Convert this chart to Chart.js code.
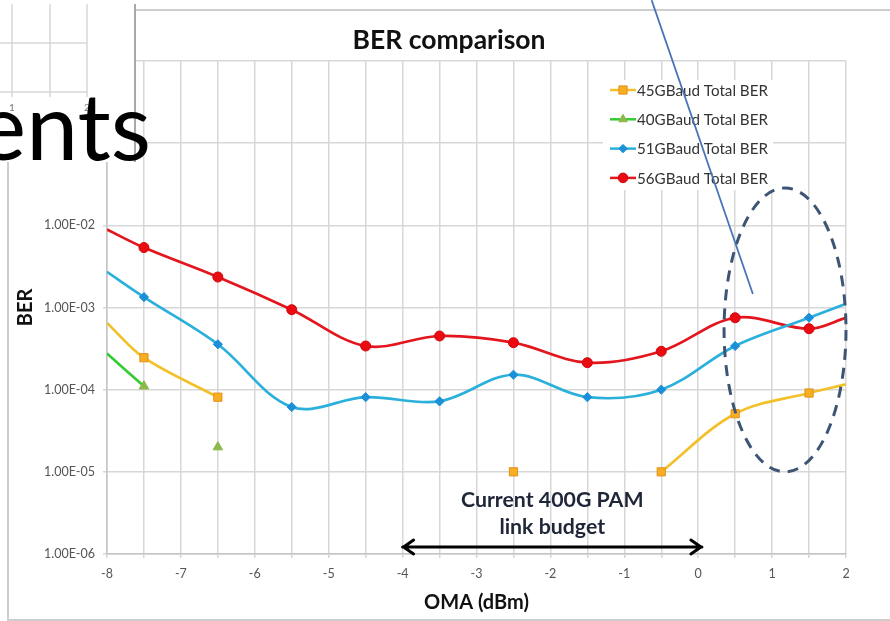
<!DOCTYPE html>
<html>
<head>
<meta charset="utf-8">
<script src="https://cdn.jsdelivr.net/npm/chart.js@4.4.1/dist/chart.umd.min.js"></script>
<style>
  html, body { margin: 0; padding: 0; background: #fff; overflow: hidden; }
  canvas { display: block; }
</style>
</head>
<body>
<canvas id="ber" width="890" height="621"></canvas>
<script>
// Optical modulation amplitude (dBm) at each measured point
const omaDbm = [-8, -7.5, -6.5, -5.5, -4.5, -3.5, -2.5, -1.5, -0.5, 0.5, 1.5, 2];
const ber45GBaud = [6.5e-4, 2.45e-4, 8.1e-5, null, null, null, 1.0e-5, null, 1.0e-5, 5.1e-5, 9.1e-5, 1.16e-4];
const ber51GBaud = [2.71e-3, 1.34e-3, 3.57e-4, 6.15e-5, 8.1e-5, 7.2e-5, 1.52e-4, 8.1e-5, 1.0e-4, 3.4e-4, 7.5e-4, 1.11e-3];
const ber56GBaud = [8.9e-3, 5.36e-3, 2.35e-3, 9.4e-4, 3.4e-4, 4.5e-4, 3.73e-4, 2.13e-4, 2.93e-4, 7.5e-4, 5.52e-4, 7.5e-4];
// 40 GBaud was only measured at the low-power end (no value at -7 dBm)
const omaDbm40 = [-8, -7.5, -7, -6.5];
const ber40GBaud = [2.75e-4, 1.1e-4, null, 2.0e-5];

const seriesNames = ['45GBaud Total BER', '40GBaud Total BER', '51GBaud Total BER', '56GBaud Total BER'];
const berTicks = [1, 1e-1, 1e-2, 1e-3, 1e-4, 1e-5, 1e-6];
const berTickLabels = ['1.00E+00', '1.00E-01', '1.00E-02', '1.00E-03', '1.00E-04', '1.00E-05', '1.00E-06'];

// link-budget span and the highlighted high-power region (in axis units)
const budgetSpan = [-4, 0.05];
const highlightX = [0.35, 2.0];
const highlightY = [1e-5, 2.85e-2];

const FONT = 'Lato, "Open Sans", sans-serif';

function points(xs, ys) {
  return xs.map((x, i) => ({ x: x, y: ys[i] }));
}
// the first and last samples sit on the axis limits and carry no marker
function edgeRadius(r) {
  return ctx => (ctx.raw && (ctx.raw.x <= -8 || ctx.raw.x >= 2)) ? 0 : r;
}

const datasets = [
  {
    label: seriesNames[0], data: points(omaDbm, ber45GBaud),
    borderColor: '#f2c12a', borderWidth: 2.7,
    pointStyle: 'rect', pointRadius: edgeRadius(5.8),
    pointBackgroundColor: '#f7ae22', pointBorderColor: '#e2911a', pointBorderWidth: 1,
    legendMarker: { style: 'rect', radius: 5.8, fill: '#f7ae22', stroke: '#e2911a' }
  },
  {
    label: seriesNames[1], data: points(omaDbm40, ber40GBaud),
    borderColor: '#33cc33', borderWidth: 2.7,
    pointStyle: 'triangle', pointRadius: edgeRadius(5.5),
    pointBackgroundColor: '#8fb84c', pointBorderColor: '#8fb84c', pointBorderWidth: 1,
    legendMarker: { style: 'triangle', radius: 5, fill: '#8fb84c', stroke: '#8fb84c' }
  },
  {
    label: seriesNames[2], data: points(omaDbm, ber51GBaud),
    borderColor: '#2bb0dc', borderWidth: 2.7,
    pointStyle: 'rectRot', pointRadius: edgeRadius(4.6),
    pointBackgroundColor: '#1b8fd8', pointBorderColor: '#1b8fd8', pointBorderWidth: 1,
    legendMarker: { style: 'rectRot', radius: 4.2, fill: '#1b8fd8', stroke: '#1b8fd8' }
  },
  {
    label: seriesNames[3], data: points(omaDbm, ber56GBaud),
    borderColor: '#e3161e', borderWidth: 2.7,
    pointStyle: 'circle', pointRadius: edgeRadius(5),
    pointBackgroundColor: '#ea0a12', pointBorderColor: '#d0060c', pointBorderWidth: 1,
    legendMarker: { style: 'circle', radius: 4.8, fill: '#ea0a12', stroke: '#d0060c' }
  }
];

const decor = {
  id: 'decor',
  beforeDraw(chart) {
    const c = chart.ctx;
    c.save();
    c.fillStyle = '#fff';
    c.fillRect(0, 0, chart.width, chart.height);
    // picture frame of the chart
    c.strokeStyle = '#cdcdcd';
    c.lineWidth = 2;
    c.beginPath();
    c.moveTo(135, 10); c.lineTo(890, 10);
    c.moveTo(8, 0); c.lineTo(8, 621);
    c.moveTo(8, 620); c.lineTo(890, 620);
    c.stroke();
    c.restore();
  },
  afterDraw(chart) {
    const c = chart.ctx;
    const xs = chart.scales.x, ys = chart.scales.y;
    const area = chart.chartArea;
    c.save();

    // ---- legend (inside plot, top right)
    c.fillStyle = '#fff';
    c.fillRect(603, 80, 170, 110);
    chart.data.datasets.forEach((ds, i) => {
      const y = 90 + i * 29.3;
      c.strokeStyle = ds.borderColor;
      c.lineWidth = 2.5;
      c.beginPath(); c.moveTo(610, y); c.lineTo(636, y); c.stroke();
      const m = ds.legendMarker;
      c.fillStyle = m.fill; c.strokeStyle = m.stroke; c.lineWidth = 1;
      Chart.helpers.drawPoint(c, { pointStyle: m.style, radius: m.radius, rotation: 0, borderWidth: 1 }, 623, y);
      c.fillStyle = '#333';
      c.font = '15.2px ' + FONT;
      c.textAlign = 'left'; c.textBaseline = 'middle';
      c.fillText(ds.label, 637, y + 1);
    });

    // ---- chart title
    c.fillStyle = '#111';
    c.font = 'bold 26.5px ' + FONT;
    c.textAlign = 'center'; c.textBaseline = 'middle';
    c.fillText('BER comparison', 449, 40);

    // ---- axis titles
    c.font = 'bold 20px ' + FONT;
    c.fillText('OMA (dBm)', (area.left + area.right) / 2, 603);
    c.save();
    c.translate(26, (area.top + area.bottom) / 2);
    c.rotate(-Math.PI / 2);
    c.fillText('BER', 0, 0);
    c.restore();

    // ---- link budget arrow and caption
    const ax0 = xs.getPixelForValue(budgetSpan[0]);
    const ax1 = xs.getPixelForValue(budgetSpan[1]);
    const ay = area.bottom - 7;
    c.strokeStyle = '#000'; c.lineWidth = 3; c.lineCap = 'round'; c.lineJoin = 'round';
    c.beginPath();
    c.moveTo(ax0, ay); c.lineTo(ax1, ay);
    c.moveTo(ax0 + 11, ay - 7); c.lineTo(ax0 + 1, ay); c.lineTo(ax0 + 11, ay + 7);
    c.moveTo(ax1 - 11, ay - 7); c.lineTo(ax1 - 1, ay); c.lineTo(ax1 - 11, ay + 7);
    c.stroke();
    c.fillStyle = '#1e2638';
    c.font = 'bold 21.3px ' + FONT;
    c.textAlign = 'center'; c.textBaseline = 'middle';
    const cx = (ax0 + ax1) / 2;
    c.fillText('Current 400G PAM', cx, 500);
    c.fillText('link budget', cx, 527);

    // ---- dashed ellipse around the high-power region
    const ex0 = xs.getPixelForValue(highlightX[0]);
    const ex1 = xs.getPixelForValue(highlightX[1]);
    const ey0 = ys.getPixelForValue(highlightY[1]);
    const ey1 = ys.getPixelForValue(highlightY[0]);
    c.strokeStyle = '#3d5475'; c.lineWidth = 3; c.lineCap = 'butt';
    c.setLineDash([11, 8]);
    c.beginPath();
    c.ellipse((ex0 + ex1) / 2, (ey0 + ey1) / 2, (ex1 - ex0) / 2, (ey1 - ey0) / 2, 0, 0, Math.PI * 2);
    c.stroke();
    c.setLineDash([]);

    // ---- callout line
    c.strokeStyle = '#4a74b8'; c.lineWidth = 1.8;
    c.beginPath();
    c.moveTo(xs.getPixelForValue(-0.63), ys.getPixelForValue(5.5));
    c.lineTo(xs.getPixelForValue(0.74), ys.getPixelForValue(1.46e-3));
    c.stroke();

    // ---- slide picture overlapping the top-left corner
    c.fillStyle = '#fff';
    c.fillRect(0, 0, 135, 162);
    c.strokeStyle = '#d8d8d8'; c.lineWidth = 1.5;
    c.beginPath();
    [12, 50, 87].forEach(x => { c.moveTo(x, 4); c.lineTo(x, 97); });
    [43, 92].forEach(y => { c.moveTo(0, y); c.lineTo(87, y); });
    c.stroke();
    c.fillStyle = '#777';
    c.font = '10px ' + FONT;
    c.textAlign = 'center';
    c.fillText('1', 12, 108);
    c.fillText('2', 87, 108);
    c.strokeStyle = '#a9a9a9'; c.lineWidth = 2;
    c.beginPath(); c.moveTo(135, 4); c.lineTo(135, 162); c.stroke();

    // ---- slide heading fragment
    c.fillStyle = '#000';
    c.font = '93px ' + FONT;
    c.textAlign = 'right'; c.textBaseline = 'alphabetic';
    c.fillText('ents', 151, 160);

    c.restore();
  }
};

new Chart(document.getElementById('ber'), {
  type: 'line',
  data: { datasets: datasets },
  options: {
    responsive: false,
    animation: false,
    events: [],
    layout: { padding: { top: 61, right: 44, left: 0, bottom: 0 } },
    elements: { line: { tension: 0.35, fill: false } },
    plugins: {
      legend: { display: false },
      title: { display: false },
      tooltip: { enabled: false }
    },
    scales: {
      x: {
        type: 'linear', min: -8, max: 2,
        afterFit: s => { s.height = 67; },
        ticks: {
          stepSize: 0.5, autoSkip: false, maxRotation: 0, padding: 8,
          color: '#555', font: { family: FONT, size: 12.5 },
          callback: v => Number.isInteger(v) ? String(v) : ''
        },
        grid: { color: '#d7d7d7', lineWidth: 1.5, tickLength: 4 },
        border: { color: '#c4c4c4', width: 1.5 }
      },
      y: {
        type: 'logarithmic', min: 1e-6, max: 1,
        afterFit: s => { s.width = 107; },
        afterBuildTicks: s => { s.ticks = berTicks.map(v => ({ value: v })); },
        ticks: {
          padding: 8, color: '#555', font: { family: FONT, size: 12.5 },
          callback: v => berTickLabels[berTicks.indexOf(v)] || ''
        },
        grid: { color: '#d7d7d7', lineWidth: 1.5, tickLength: 4 },
        border: { color: '#c4c4c4', width: 1.5 }
      }
    }
  },
  plugins: [decor]
});
</script>
</body>
</html>
